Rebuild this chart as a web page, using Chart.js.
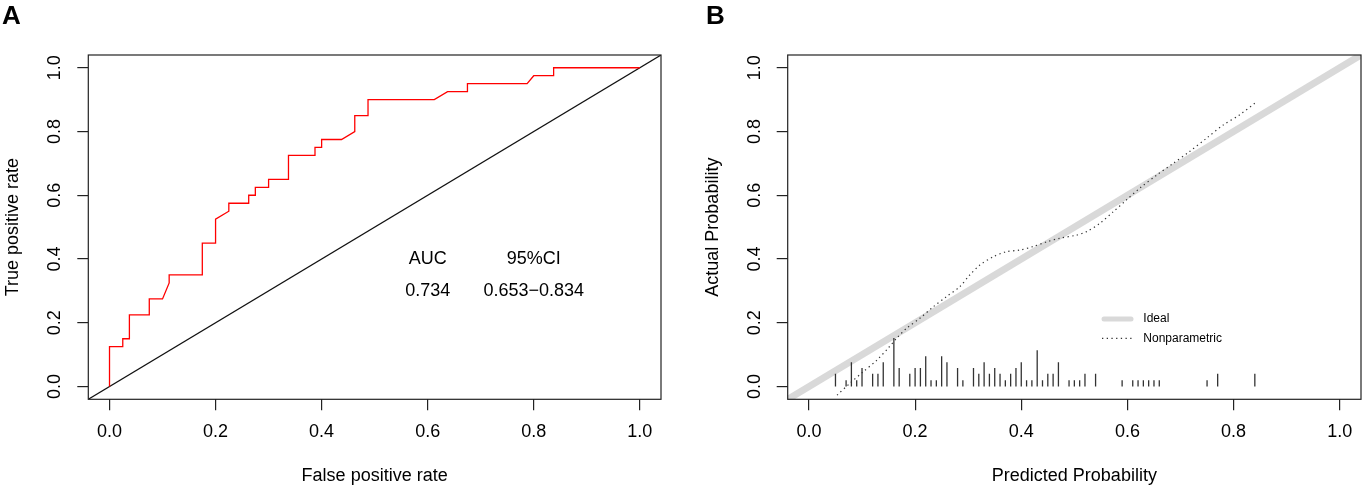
<!DOCTYPE html>
<html><head><meta charset="utf-8">
<script src="https://cdn.jsdelivr.net/npm/chart.js@4.4.1/dist/chart.umd.min.js"></script>
<style>
html,body{margin:0;padding:0;background:#fff;width:1363px;height:487px;overflow:hidden;}
#wa{position:absolute;left:0;top:0;width:700px;height:487px;}
#wb{position:absolute;left:700px;top:0;width:663px;height:487px;}
canvas{display:block;}
</style></head><body>
<div id="wa"><canvas id="ca" width="700" height="487" style="width:700px;height:487px"></canvas></div>
<div id="wb"><canvas id="cb" width="663" height="487" style="width:663px;height:487px"></canvas></div>
<script>
// ---------- data ----------
const tickValues = [0, 0.2, 0.4, 0.6, 0.8, 1.0];
const tickLabels = ['0.0', '0.2', '0.4', '0.6', '0.8', '1.0'];

// Panel A: ROC curve (false positive rate, true positive rate)
const rocFPR = [0, 0, 0.025, 0.025, 0.0375, 0.0375, 0.075, 0.075, 0.1, 0.1125, 0.1125, 0.175, 0.175, 0.2, 0.2, 0.225, 0.225, 0.2625, 0.2625, 0.275, 0.275, 0.3, 0.3, 0.3375, 0.3375, 0.3875, 0.3875, 0.4, 0.4, 0.4375, 0.4625, 0.4625, 0.4875, 0.4875, 0.6125, 0.6375, 0.675, 0.675, 0.7875, 0.8, 0.8375, 0.8375, 1.0];
const rocTPR = [0, 0.125, 0.125, 0.15, 0.15, 0.225, 0.225, 0.275, 0.275, 0.325, 0.35, 0.35, 0.45, 0.45, 0.525, 0.55, 0.575, 0.575, 0.6, 0.6, 0.625, 0.625, 0.65, 0.65, 0.725, 0.725, 0.75, 0.75, 0.775, 0.775, 0.8, 0.85, 0.85, 0.9, 0.9, 0.925, 0.925, 0.95, 0.95, 0.975, 0.975, 1.0, 1.0];
const refLine = [-0.1, 1.1];
const aucHeaders = ['AUC', '95%CI'];
const aucValues = ['0.734', '0.653\u22120.834'];
const aucTextX = [0.6, 0.8];
const aucTextY = [0.4, 0.3];

// Panel B: calibration
const calPred = [0.053, 0.077, 0.102, 0.128, 0.149, 0.165, 0.184, 0.209, 0.234, 0.259, 0.284, 0.303, 0.322, 0.347, 0.372, 0.397, 0.422, 0.45, 0.472, 0.504, 0.523, 0.548, 0.573, 0.598, 0.623, 0.655, 0.686, 0.717, 0.749, 0.78, 0.811, 0.841];
const calObs = [-0.027, 0.01, 0.046, 0.083, 0.12, 0.151, 0.183, 0.214, 0.25, 0.282, 0.313, 0.35, 0.381, 0.407, 0.423, 0.428, 0.439, 0.455, 0.465, 0.475, 0.486, 0.512, 0.548, 0.585, 0.622, 0.663, 0.7, 0.737, 0.779, 0.82, 0.852, 0.89];
const rugX = [0.05, 0.07, 0.08, 0.09, 0.10, 0.12, 0.13, 0.14, 0.16, 0.17, 0.19, 0.20, 0.21, 0.22, 0.23, 0.24, 0.25, 0.26, 0.28, 0.29, 0.31, 0.32, 0.33, 0.34, 0.35, 0.36, 0.37, 0.38, 0.39, 0.40, 0.41, 0.42, 0.43, 0.44, 0.45, 0.46, 0.47, 0.49, 0.50, 0.51, 0.52, 0.54, 0.59, 0.61, 0.62, 0.63, 0.64, 0.65, 0.66, 0.75, 0.77, 0.84];
const rugH = [0.04, 0.02, 0.076, 0.02, 0.058, 0.04, 0.04, 0.076, 0.152, 0.058, 0.04, 0.058, 0.058, 0.095, 0.02, 0.02, 0.095, 0.076, 0.058, 0.02, 0.058, 0.04, 0.076, 0.04, 0.058, 0.04, 0.02, 0.04, 0.058, 0.076, 0.02, 0.02, 0.114, 0.02, 0.04, 0.04, 0.076, 0.02, 0.02, 0.02, 0.04, 0.04, 0.02, 0.02, 0.02, 0.02, 0.02, 0.02, 0.02, 0.02, 0.04, 0.04];
const legendLabels = ['Ideal', 'Nonparametric'];

// ---------- helpers ----------
const FONT = "'Liberation Sans', Arial, Helvetica, sans-serif";
Chart.defaults.font.family = FONT;
Chart.defaults.font.size = 18;
Chart.defaults.color = '#000';

function makeScales(xTitle, yTitle, yWidth, xHeight) {
  const common = {
    type: 'linear', min: -0.04, max: 1.04,
    afterBuildTicks: s => { s.ticks = tickValues.map(v => ({ value: v })); },
    grid: { drawOnChartArea: false, drawTicks: true, tickLength: 11, color: '#222', lineWidth: 1.2 },
    border: { display: false },
  };
  return {
    x: Object.assign({}, common, {
      position: 'bottom',
      afterFit: s => { s.height = xHeight; },
      ticks: { autoSkip: false, maxRotation: 0, minRotation: 0, padding: 10.6, color: '#000', font: { size: 18 },
               callback: (v, i) => tickLabels[i] },
      title: { display: true, text: xTitle, color: '#000', font: { size: 18 }, padding: { top: 0, bottom: 0 } }
    }),
    y: Object.assign({}, common, {
      position: 'left',
      afterFit: s => { s.width = yWidth; },
      ticks: { autoSkip: false, minRotation: 90, maxRotation: 90, crossAlign: 'center', padding: 9.5, color: '#000', font: { size: 18 },
               callback: (v, i) => tickLabels[i] },
      title: { display: true, text: yTitle, color: '#000', font: { size: 18 }, padding: { top: 2, bottom: 0 } }
    })
  };
}

function boxPlugin(letter, letterX) {
  return {
    id: 'box' + letter,
    afterDraw(chart) {
      const { ctx, chartArea: a } = chart;
      ctx.save();
      ctx.strokeStyle = '#222';
      ctx.lineWidth = 1.2;
      ctx.strokeRect(a.left, a.top, a.right - a.left, a.bottom - a.top);
      ctx.fillStyle = '#000';
      ctx.font = 'bold 26px ' + FONT;
      ctx.textAlign = 'left';
      ctx.textBaseline = 'alphabetic';
      ctx.fillText(letter, letterX, 24);
      ctx.restore();
    }
  };
}

const aucTextPlugin = {
  id: 'aucText',
  afterDatasetsDraw(chart) {
    const { ctx, scales: { x, y } } = chart;
    ctx.save();
    ctx.fillStyle = '#000';
    ctx.font = '18px ' + FONT;
    ctx.textAlign = 'center';
    ctx.textBaseline = 'middle';
    aucHeaders.forEach((t, j) => ctx.fillText(t, x.getPixelForValue(aucTextX[j]), y.getPixelForValue(aucTextY[0])));
    aucValues.forEach((t, j) => ctx.fillText(t, x.getPixelForValue(aucTextX[j]), y.getPixelForValue(aucTextY[1])));
    ctx.restore();
  }
};

const legendPlugin = {
  id: 'calLegend',
  afterDatasetsDraw(chart) {
    const { ctx } = chart;
    const x0 = 404, x1 = 431, tx = 443.3, y0 = 319, y1 = 338.3;
    ctx.save();
    ctx.lineCap = 'round';
    ctx.strokeStyle = '#d9d9d9';
    ctx.lineWidth = 5;
    ctx.beginPath(); ctx.moveTo(x0, y0); ctx.lineTo(x1, y0); ctx.stroke();
    ctx.lineCap = 'butt';
    ctx.strokeStyle = '#333';
    ctx.lineWidth = 1.2;
    ctx.setLineDash([1.3, 3.4]);
    ctx.beginPath(); ctx.moveTo(x0 - 2, y1); ctx.lineTo(x1 + 1, y1); ctx.stroke();
    ctx.setLineDash([]);
    ctx.fillStyle = '#000';
    ctx.font = '12px ' + FONT;
    ctx.textAlign = 'left';
    ctx.textBaseline = 'middle';
    ctx.fillText(legendLabels[0], tx, y0);
    ctx.fillText(legendLabels[1], tx, y1);
    ctx.restore();
  }
};

// ---------- panel A ----------
new Chart(document.getElementById('ca'), {
  type: 'line',
  data: {
    datasets: [
      { label: 'ROC', data: rocFPR.map((v, i) => ({ x: v, y: rocTPR[i] })), borderColor: '#ff0000', borderWidth: 1.3,
        pointRadius: 0, tension: 0, fill: false },
      { label: 'Reference', data: refLine.map(v => ({ x: v, y: v })), borderColor: '#111', borderWidth: 1.2,
        pointRadius: 0, tension: 0, fill: false }
    ]
  },
  options: {
    responsive: false, animation: false, devicePixelRatio: 1,
    layout: { padding: { left: 0, top: 55, right: 39, bottom: 0 } },
    plugins: { legend: { display: false }, tooltip: { enabled: false } },
    scales: makeScales('False positive rate', 'True positive rate', 88.3, 87.7)
  },
  plugins: [boxPlugin('A', 2), aucTextPlugin]
});

// ---------- panel B ----------
const rugData = [];
rugX.forEach((v, i) => { rugData.push({ x: v, y: 0 }, { x: v, y: rugH[i] }, { x: v, y: null }); });

new Chart(document.getElementById('cb'), {
  type: 'line',
  data: {
    datasets: [
      { label: 'Nonparametric', data: calPred.map((v, i) => ({ x: v, y: calObs[i] })), borderColor: '#333', borderWidth: 1.2,
        borderDash: [1.3, 3.4], pointRadius: 0, tension: 0.3, fill: false },
      { label: 'Rug', data: rugData, borderColor: '#333', borderWidth: 1.3, pointRadius: 0, spanGaps: false, tension: 0, fill: false },
      { label: 'Ideal', data: refLine.map(v => ({ x: v, y: v })), borderColor: '#d9d9d9', borderWidth: 7,
        pointRadius: 0, tension: 0, fill: false }
    ]
  },
  options: {
    responsive: false, animation: false, devicePixelRatio: 1,
    layout: { padding: { left: 0, top: 55, right: 2, bottom: 0 } },
    plugins: { legend: { display: false }, tooltip: { enabled: false } },
    scales: makeScales('Predicted Probability', 'Actual Probability', 87.7, 87.7)
  },
  plugins: [boxPlugin('B', 6), legendPlugin]
});
</script>
</body></html>
